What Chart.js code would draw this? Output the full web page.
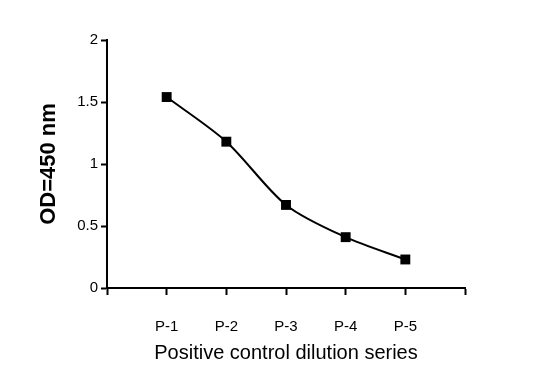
<!DOCTYPE html>
<html>
<head>
<meta charset="utf-8">
<script src="https://cdn.jsdelivr.net/npm/chart.js@4/dist/chart.umd.min.js"></script>
<style>
  html, body { margin: 0; padding: 0; background: #fff; }
  #wrap { width: 557px; height: 389px; }
</style>
</head>
<body>
<div id="wrap"><canvas id="chartArea"></canvas></div>
<script>
// categories padded with empty slots on both ends (Excel-style spacing)
const categories = ['', 'P-1', 'P-2', 'P-3', 'P-4', 'P-5', ''];
const odValues = [null, 1.54, 1.18, 0.67, 0.41, 0.23, null];
const yTicks = [0, 0.5, 1, 1.5, 2];

const ctx = document.getElementById('chartArea');

const config = {
    type: 'line',
    data: {
        labels: categories,
        datasets: [{
            label: 'OD=450 nm',
            data: odValues,
            borderColor: '#000',
            backgroundColor: '#000',
            borderWidth: 2,
            tension: 0.3,
            pointStyle: 'rect',
            pointRadius: 7,
            pointHoverRadius: 7,
            pointBorderWidth: 0,
        }]
    },
    options: {
        responsive: true,
        maintainAspectRatio: false,
        animation: false,
        layout: {
            padding: { left: 0, right: 92, top: 40, bottom: 0 }
        },
        plugins: {
            legend: { display: false },
            tooltip: { enabled: false }
        },
        scales: {
            x: {
                type: 'category',
                offset: false,
                grid: {
                    drawOnChartArea: false,
                    drawTicks: true,
                    tickLength: 7,
                    tickWidth: 2,
                    color: '#000'
                },
                border: { color: '#000', width: 2 },
                ticks: {
                    color: '#000',
                    padding: 23,
                    maxRotation: 0,
                    autoSkip: false,
                    font: { family: 'Liberation Sans', size: 15 }
                },
                title: {
                    display: true,
                    text: 'Positive control dilution series',
                    color: '#000',
                    padding: { top: 0, bottom: 24 },
                    font: { family: 'Liberation Sans', size: 20 }
                },
                afterFit: (scale) => { scale.height = 101; }
            },
            y: {
                min: 0,
                max: 2,
                afterBuildTicks: (scale) => {
                    scale.ticks = yTicks.map(v => ({ value: v }));
                },
                grid: {
                    drawOnChartArea: false,
                    drawTicks: true,
                    tickLength: 6,
                    tickWidth: 2,
                    color: '#000'
                },
                border: { color: '#000', width: 2 },
                ticks: {
                    color: '#000',
                    padding: 3,
                    font: { family: 'Liberation Sans', size: 15 },
                    callback: (v) => String(v)
                },
                title: {
                    display: true,
                    text: 'OD=450 nm',
                    color: '#000',
                    padding: { top: 36, bottom: 0 },
                    font: { family: 'Liberation Sans', size: 22, weight: 'bold' }
                },
                afterFit: (scale) => { scale.width = 107; }
            }
        }
    }
};

new Chart(ctx, config);
</script>
</body>
</html>
